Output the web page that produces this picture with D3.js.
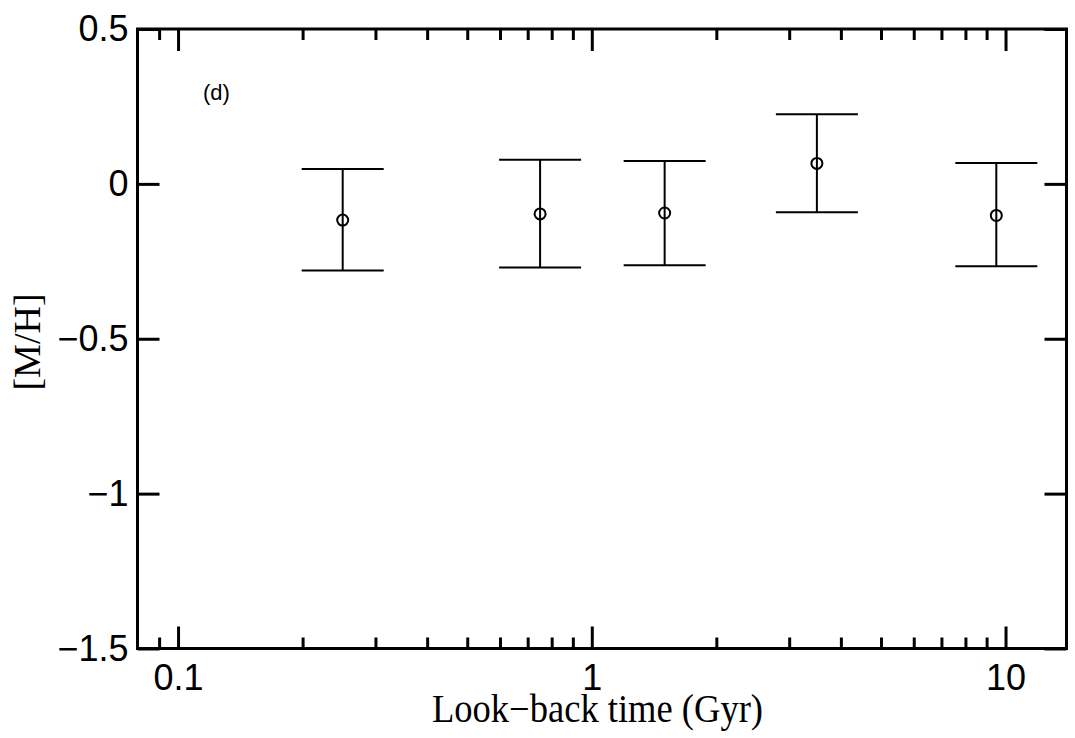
<!DOCTYPE html>
<html>
<head>
<meta charset="utf-8">
<script src="https://cdnjs.cloudflare.com/ajax/libs/d3/7.8.5/d3.min.js"></script>
<style>
  body { margin: 0; background: #fff; }
  svg { display: block; }
</style>
</head>
<body>
<svg id="vis"></svg>
<script>
// data
var lookback = [0.25, 0.75, 1.5, 3.5, 9.5];
var metal    = [-0.117, -0.097, -0.094, 0.066, -0.102];
var errLow   = [-0.280, -0.270, -0.263, -0.092, -0.266];
var errHigh  = [0.048, 0.078, 0.074, 0.225, 0.067];

var xMajor = [0.1, 1, 10];
var xMajorLabels = ["0.1", "1", "10"];
var xMinor = [0.09, 0.2, 0.3, 0.4, 0.5, 0.6, 0.7, 0.8, 0.9, 2, 3, 4, 5, 6, 7, 8, 9];
var yMajor = [0.5, 0, -0.5, -1, -1.5];
var yMajorLabels = ["0.5", "0", "\u22120.5", "\u22121", "\u22121.5"];

const WIDTH = 1075;
const HEIGHT = 738;
const LEFT = 137.5, RIGHT = 1066.5, TOP = 29, BOTTOM = 648.5;
const CAP = 41;

var svg = d3.select("#vis")
    .attr("width", WIDTH)
    .attr("height", HEIGHT);

var x = d3.scaleLog().domain([0.0798, 14.04]).range([LEFT, RIGHT]);
var y = d3.scaleLinear().domain([-1.5, 0.5]).range([BOTTOM, TOP]);

function styleAxis(g, fontSize) {
    g.select(".domain").remove();
    g.selectAll(".tick line").attr("stroke", "#000").attr("stroke-width", 3);
    g.selectAll(".tick text")
        .attr("fill", "#000")
        .attr("font-family", "'Liberation Sans', Arial, Helvetica, sans-serif")
        .attr("font-size", fontSize);
}

// bottom axis
svg.append("g").attr("transform", "translate(0," + BOTTOM + ")")
    .call(d3.axisBottom(x).tickValues(xMajor).tickSize(-22).tickPadding(16)
        .tickFormat(function(d, i) { return xMajorLabels[i]; }))
    .call(function(g) { styleAxis(g, "36px"); });
svg.append("g").attr("transform", "translate(0," + BOTTOM + ")")
    .call(d3.axisBottom(x).tickValues(xMinor).tickSize(-11).tickFormat(""))
    .call(function(g) { styleAxis(g, "1px"); });

// top axis
svg.append("g").attr("transform", "translate(0," + TOP + ")")
    .call(d3.axisTop(x).tickValues(xMajor).tickSize(-22).tickFormat(""))
    .call(function(g) { styleAxis(g, "1px"); });
svg.append("g").attr("transform", "translate(0," + TOP + ")")
    .call(d3.axisTop(x).tickValues(xMinor).tickSize(-11).tickFormat(""))
    .call(function(g) { styleAxis(g, "1px"); });

// left & right axes
svg.append("g").attr("transform", "translate(" + LEFT + ",0)")
    .call(d3.axisLeft(y).tickValues(yMajor).tickSize(-22).tickPadding(9)
        .tickFormat(function(d, i) { return yMajorLabels[i]; }))
    .call(function(g) { styleAxis(g, "36px"); });
svg.append("g").attr("transform", "translate(" + RIGHT + ",0)")
    .call(d3.axisRight(y).tickValues(yMajor).tickSize(-22).tickFormat(""))
    .call(function(g) { styleAxis(g, "1px"); });

// frame
svg.append("rect")
    .attr("x", LEFT).attr("y", TOP)
    .attr("width", RIGHT - LEFT).attr("height", BOTTOM - TOP)
    .attr("fill", "none").attr("stroke", "#000").attr("stroke-width", 3);

// error bars
var pts = svg.append("g");
pts.selectAll("line.bar")
    .data(lookback)
    .enter()
    .append("line")
    .attr("class", "bar")
    .attr("x1", function(d) { return x(d); })
    .attr("x2", function(d) { return x(d); })
    .attr("y1", function(d, i) { return y(errLow[i]); })
    .attr("y2", function(d, i) { return y(errHigh[i]); })
    .attr("stroke", "#000").attr("stroke-width", 2);

pts.selectAll("line.capHi")
    .data(lookback)
    .enter()
    .append("line")
    .attr("class", "capHi")
    .attr("x1", function(d) { return x(d) - CAP; })
    .attr("x2", function(d) { return x(d) + CAP; })
    .attr("y1", function(d, i) { return y(errHigh[i]); })
    .attr("y2", function(d, i) { return y(errHigh[i]); })
    .attr("stroke", "#000").attr("stroke-width", 2);

pts.selectAll("line.capLo")
    .data(lookback)
    .enter()
    .append("line")
    .attr("class", "capLo")
    .attr("x1", function(d) { return x(d) - CAP; })
    .attr("x2", function(d) { return x(d) + CAP; })
    .attr("y1", function(d, i) { return y(errLow[i]); })
    .attr("y2", function(d, i) { return y(errLow[i]); })
    .attr("stroke", "#000").attr("stroke-width", 2);

pts.selectAll("circle")
    .data(lookback)
    .enter()
    .append("circle")
    .attr("cx", function(d) { return x(d); })
    .attr("cy", function(d, i) { return y(metal[i]); })
    .attr("r", 5.5)
    .attr("fill", "none")
    .attr("stroke", "#000").attr("stroke-width", 2);

// panel tag
svg.append("text")
    .text("(d)")
    .attr("x", 203)
    .attr("y", 100)
    .attr("font-family", "'Liberation Sans', Arial, sans-serif")
    .attr("font-size", "22px")
    .attr("fill", "#000");

// axis titles
svg.append("text")
    .text("Look\u2212back time (Gyr)")
    .attr("x", 432)
    .attr("y", 722)
    .attr("textLength", 331)
    .attr("lengthAdjust", "spacingAndGlyphs")
    .attr("font-family", "'Liberation Serif', 'Times New Roman', serif")
    .attr("font-size", "39px")
    .attr("fill", "#000");

svg.append("text")
    .text("[M/H]")
    .attr("transform", "translate(40,342) rotate(-90)")
    .attr("text-anchor", "middle")
    .attr("font-family", "'Liberation Serif', 'Times New Roman', serif")
    .attr("font-size", "38px")
    .attr("fill", "#000");
</script>
</body>
</html>
